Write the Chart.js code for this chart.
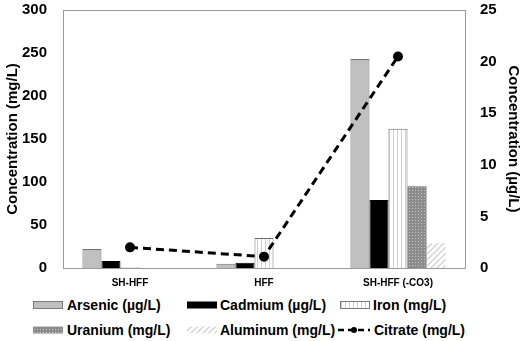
<!DOCTYPE html>
<html>
<head>
<meta charset="utf-8">
<script src="https://cdn.jsdelivr.net/npm/chart.js@4"></script>
<style>
  body { margin: 0; background: #fff; font-family: "Liberation Sans", Arial, sans-serif; overflow: hidden; }
  #wrap { position: relative; width: 526px; height: 341px; overflow: hidden; }
  #chart { position: absolute; left: 0; top: -15px; }
  .lg { position: absolute; font-weight: bold; font-size: 14px; color: #000; white-space: nowrap; line-height: 16px; }
  .sw { position: absolute; }
</style>
</head>
<body>
<div id="wrap">
  <canvas id="chart" width="526" height="310"></canvas>
  <div id="legend"></div>
</div>
<script>
const categories = ['SH-HFF', 'HFF', 'SH-HFF (-CO3)'];
const arsenic = [22, 5, 243];
const cadmium = [8, 6, 79];
const iron = [1, 35, 162];
const uranium = [0, 0, 95];
const aluminum = [0, 0, 29];
const citrate = [2.0, 1.1, 20.5];
const leftTicks = [0, 50, 100, 150, 200, 250, 300];
const rightTicks = [0, 5, 10, 15, 20, 25];

// pattern tiles
function makeTile(w, h, draw) {
    const c = document.createElement('canvas');
    c.width = w; c.height = h;
    draw(c.getContext('2d'));
    return c;
}
const ironTile = makeTile(4, 4, g => {
    g.fillStyle = '#fff'; g.fillRect(0, 0, 4, 4);
    g.fillStyle = '#cfcfcf'; g.fillRect(1, 0, 1, 4);
});
const uraniumTile = makeTile(3, 3, g => {
    g.fillStyle = '#8c8c8c'; g.fillRect(0, 0, 3, 3);
    g.fillStyle = '#c4c4c4'; g.fillRect(1, 1, 1, 1);
});
const aluminumTile = makeTile(6, 6, g => {
    g.fillStyle = '#fff'; g.fillRect(0, 0, 6, 6);
    g.strokeStyle = '#d0d0d0'; g.lineWidth = 1.3;
    g.beginPath();
    g.moveTo(-1, 7); g.lineTo(7, -1);
    g.moveTo(-1, 1); g.lineTo(1, -1);
    g.moveTo(5, 7); g.lineTo(7, 5);
    g.stroke();
});

const ctx = document.getElementById('chart').getContext('2d');
const ironFill = ctx.createPattern(ironTile, 'repeat');
const uraniumFill = ctx.createPattern(uraniumTile, 'repeat');
const aluminumFill = ctx.createPattern(aluminumTile, 'repeat');

// top edge of the plot frame
const frameTop = {
    id: 'frameTop',
    afterDraw(chart) {
        const a = chart.chartArea, g = chart.ctx;
        g.save();
        g.strokeStyle = '#999';
        g.lineWidth = 1;
        g.beginPath();
        g.moveTo(a.left, a.top + 0.5);
        g.lineTo(a.right, a.top + 0.5);
        g.stroke();
        g.restore();
    }
};

const bold15 = { family: 'Liberation Sans', size: 15, weight: 'bold' };

new Chart(ctx, {
    data: {
        labels: categories,
        datasets: [
            { type: 'line', label: 'Citrate (mg/L)', data: citrate, yAxisID: 'y1', order: 0,
              borderColor: '#000', borderWidth: 3, borderDash: [8, 5],
              pointRadius: 3.5, pointBackgroundColor: '#000', pointBorderColor: '#000', tension: 0 },
            { type: 'bar', label: 'Arsenic (µg/L)', data: arsenic, yAxisID: 'y', order: 1,
              backgroundColor: '#c0c0c0', borderColor: '#6f6f6f', borderWidth: 1 },
            { type: 'bar', label: 'Cadmium (µg/L)', data: cadmium, yAxisID: 'y', order: 1,
              backgroundColor: '#000', borderColor: '#000', borderWidth: 1 },
            { type: 'bar', label: 'Iron (mg/L)', data: iron, yAxisID: 'y', order: 1,
              backgroundColor: ironFill, borderColor: '#6f6f6f', borderWidth: 1 },
            { type: 'bar', label: 'Uranium (mg/L)', data: uranium, yAxisID: 'y', order: 1,
              backgroundColor: uraniumFill, borderWidth: 0 },
            { type: 'bar', label: 'Aluminum (mg/L)', data: aluminum, yAxisID: 'y', order: 1,
              backgroundColor: aluminumFill, borderWidth: 0 }
        ]
    },
    options: {
        responsive: false,
        animation: false,
        layout: { padding: { top: 0, left: 0, right: 0, bottom: 0 } },
        datasets: { bar: { categoryPercentage: 0.71, barPercentage: 1.0 } },
        plugins: { legend: { display: false }, tooltip: { enabled: false } },
        scales: {
            x: {
                grid: { display: false, drawTicks: false },
                border: { color: '#999' },
                ticks: { color: '#000', padding: 9, font: { family: 'Liberation Sans', size: 10, weight: 'bold' } },
                afterFit: s => { s.height = 27; }
            },
            y: {
                position: 'left', min: 0, max: 300,
                grid: { display: false, drawTicks: false },
                border: { color: '#999' },
                afterBuildTicks: s => { s.ticks = leftTicks.map(v => ({ value: v })); },
                ticks: { color: '#000', padding: 16, font: bold15 },
                title: { display: true, text: 'Concentration (mg/L)', color: '#000', font: bold15 },
                afterFit: s => { s.width = 63; }
            },
            y1: {
                position: 'right', min: 0, max: 25,
                grid: { display: false, drawTicks: false },
                border: { color: '#999' },
                afterBuildTicks: s => { s.ticks = rightTicks.map(v => ({ value: v })); },
                ticks: { color: '#000', padding: 15, font: bold15 },
                title: { display: true, text: 'Concentration (µg/L)', color: '#000', font: bold15 },
                afterFit: s => { s.width = 61; }
            }
        }
    },
    plugins: [frameTop]
});

// legend below the chart
const legendItems = [
    { text: 'Arsenic (µg/L)', sx: 33, sw: 30, tx: 67, y: 305, kind: 'arsenic' },
    { text: 'Cadmium (µg/L)', sx: 187, sw: 30, tx: 220, y: 305, kind: 'cadmium' },
    { text: 'Iron (mg/L)', sx: 340, sw: 30, tx: 373, y: 305, kind: 'iron' },
    { text: 'Uranium (mg/L)', sx: 33, sw: 30, tx: 67, y: 330, kind: 'uranium' },
    { text: 'Aluminum (mg/L)', sx: 187, sw: 30, tx: 220, y: 330, kind: 'aluminum' },
    { text: 'Citrate (mg/L)', sx: 338, sw: 32, tx: 374, y: 330, kind: 'citrate' }
];
const legendBox = document.getElementById('legend');
legendItems.forEach(it => {
    const c = document.createElement('canvas');
    c.className = 'sw';
    c.width = it.sw; c.height = 10;
    c.style.left = it.sx + 'px';
    c.style.top = (it.y - 5) + 'px';
    const g = c.getContext('2d');
    if (it.kind === 'citrate') {
        g.strokeStyle = '#000'; g.lineWidth = 2.5; g.setLineDash([6, 4]);
        g.beginPath(); g.moveTo(0, 5); g.lineTo(it.sw, 5); g.stroke();
        g.fillStyle = '#000'; g.beginPath(); g.arc(it.sw / 2, 5, 3, 0, Math.PI * 2); g.fill();
    } else {
        const fills = {
            arsenic: '#c0c0c0', cadmium: '#000',
            iron: g.createPattern(ironTile, 'repeat'),
            uranium: g.createPattern(uraniumTile, 'repeat'),
            aluminum: g.createPattern(aluminumTile, 'repeat')
        };
        g.fillStyle = fills[it.kind];
        g.fillRect(0, 1.5, it.sw, 7);
        if (it.kind === 'arsenic' || it.kind === 'iron') {
            g.strokeStyle = '#7a7a7a'; g.lineWidth = 1;
            g.strokeRect(0.5, 1.5, it.sw - 1, 7);
        }
    }
    legendBox.appendChild(c);
    const t = document.createElement('div');
    t.className = 'lg';
    t.textContent = it.text;
    t.style.left = it.tx + 'px';
    t.style.top = (it.y - 8) + 'px';
    legendBox.appendChild(t);
});
</script>
</body>
</html>
